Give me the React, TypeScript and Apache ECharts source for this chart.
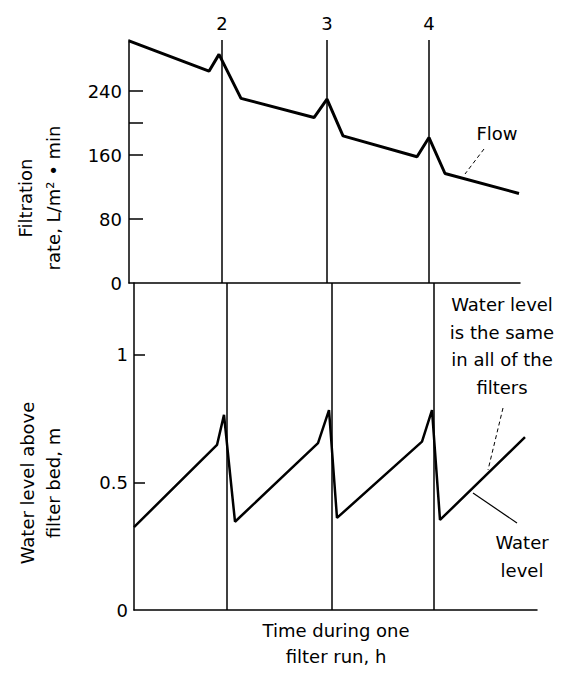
import React, { useEffect, useRef } from "react";
import * as echarts from "echarts";

// ---- data ----
const flowTime = [0, 0.8, 0.9, 1.12, 1.85, 1.98, 2.14, 2.88, 3.0, 3.16, 3.9];
const flowRate = [303, 265, 286, 231, 207, 230, 184, 158, 182, 137, 112];

const levelTime = [0, 0.83, 0.9, 1.01, 1.84, 1.95, 2.03, 2.88, 2.98, 3.06, 3.91];
const levelValue = [0.325, 0.647, 0.765, 0.346, 0.654, 0.784, 0.361, 0.66, 0.784, 0.353, 0.678];

const backwashTime = [0.925, 1.975, 2.995];
const filterLabels = ["2", "3", "4"];

const flowTicks = [0, 80, 160, 200, 240];
const flowLabels = [0, 80, 160, 240];
const levelTicks = [0, 0.5, 1];

const FONT = "DejaVu Sans";
const FS = 18;

export default function App() {
  const ref = useRef<HTMLDivElement>(null);

  useEffect(() => {
    if (!ref.current) return;
    const chart = echarts.init(ref.current, undefined, { renderer: "svg" });

    const axisLine = { show: true, onZero: false, lineStyle: { color: "#000", width: 1.5 } };
    const textStyle = (text: string, extra: any = {}) => ({
      text,
      fontFamily: FONT,
      fontSize: FS,
      fill: "#000",
      align: "center",
      textAlign: "center",
      verticalAlign: "middle",
      textVerticalAlign: "middle",
      ...extra,
    });

    // short tick segments drawn from the tick lists, through the axes' scales
    const tickSeg = (xAxisIndex: number, yAxisIndex: number, ticks: number[], len: number) => ({
      type: "line",
      xAxisIndex,
      yAxisIndex,
      data: [],
      silent: true,
      markLine: {
        silent: true,
        symbol: "none",
        label: { show: false },
        lineStyle: { color: "#000", width: 1.5, type: "solid" },
        data: ticks.map((v) => [
          { coord: [0, v] },
          { coord: [len, v] },
        ]),
      },
    });

    const option: any = {
      animation: false,
      backgroundColor: "#fff",
      grid: [
        { left: 129, top: 40, width: 391, height: 243 },
        { left: 134, top: 283, width: 403, height: 327 },
      ],
      xAxis: [
        {
          type: "value", gridIndex: 0, min: 0, max: 3.91,
          axisLine, axisTick: { show: false }, axisLabel: { show: false }, splitLine: { show: false },
        },
        {
          type: "value", gridIndex: 1, min: 0, max: 4.03,
          axisLine, axisTick: { show: false }, axisLabel: { show: false }, splitLine: { show: false },
        },
      ],
      yAxis: [
        {
          type: "value", gridIndex: 0, min: 0, max: 304, interval: 80,
          axisLine, axisTick: { show: false }, splitLine: { show: false },
          axisLabel: {
            margin: 7, color: "#000", fontFamily: FONT, fontSize: FS,
            formatter: (v: number) => (flowLabels.includes(v) ? String(v) : ""),
          },
        },
        {
          type: "value", gridIndex: 1, min: 0, max: 1.282, interval: 0.5,
          axisLine, axisTick: { show: false }, splitLine: { show: false },
          axisLabel: {
            margin: 6, color: "#000", fontFamily: FONT, fontSize: FS,
            formatter: (v: number) => (levelTicks.includes(v) ? String(v) : ""),
          },
        },
      ],
      series: [
        {
          type: "line", xAxisIndex: 0, yAxisIndex: 0,
          data: flowTime.map((t, i) => [t, flowRate[i]]),
          symbol: "none", lineStyle: { color: "#000", width: 3 }, silent: true,
          markLine: {
            silent: true, symbol: "none",
            lineStyle: { color: "#000", width: 1.5, type: "solid" },
            label: {
              show: true, position: "end", distance: 8, color: "#000",
              fontFamily: FONT, fontSize: FS, formatter: (p: any) => p.name,
            },
            data: backwashTime.map((t, i) => ({ xAxis: t, name: filterLabels[i] })),
          },
        },
        {
          type: "line", xAxisIndex: 1, yAxisIndex: 1,
          data: levelTime.map((t, i) => [t, levelValue[i]]),
          symbol: "none", lineStyle: { color: "#000", width: 2.5 }, silent: true,
          markLine: {
            silent: true, symbol: "none",
            lineStyle: { color: "#000", width: 1.5, type: "solid" },
            label: { show: false },
            data: backwashTime.map((t) => ({ xAxis: t })),
          },
        },
        tickSeg(0, 0, flowTicks.filter((v) => v > 0), 0.14),
        tickSeg(1, 1, levelTicks.filter((v) => v > 0), 0.11),
      ],
      graphic: [
        {
          type: "text", x: 39, y: 198, rotation: Math.PI / 2,
          style: textStyle("Filtration\nrate, L/m² • min", { lineHeight: 28 }),
        },
        {
          type: "text", x: 40, y: 483, rotation: Math.PI / 2,
          style: textStyle("Water level above\nfilter bed, m", { lineHeight: 26 }),
        },
        { type: "text", x: 497, y: 133, style: textStyle("Flow") },
        {
          type: "line", shape: { x1: 484, y1: 149, x2: 465, y2: 174 },
          style: { stroke: "#000", lineWidth: 1, lineDash: [4, 3] },
        },
        {
          type: "text", x: 502, y: 346,
          style: textStyle("Water level\nis the same\nin all of the\nfilters", { lineHeight: 27.5 }),
        },
        {
          type: "line", shape: { x1: 503, y1: 408, x2: 488, y2: 470 },
          style: { stroke: "#000", lineWidth: 1, lineDash: [4, 3] },
        },
        {
          type: "text", x: 522, y: 556,
          style: textStyle("Water\nlevel", { lineHeight: 28 }),
        },
        {
          type: "line", shape: { x1: 517, y1: 523, x2: 473, y2: 493 },
          style: { stroke: "#000", lineWidth: 1.2 },
        },
        {
          type: "text", x: 336, y: 643,
          style: textStyle("Time during one\nfilter run, h", { lineHeight: 26 }),
        },
      ],
    };

    chart.setOption(option);
    return () => chart.dispose();
  }, []);

  return (
    <div
      ref={ref}
      style={{ position: "absolute", left: 0, top: 0, width: 573, height: 675, background: "#fff" }}
    />
  );
}
